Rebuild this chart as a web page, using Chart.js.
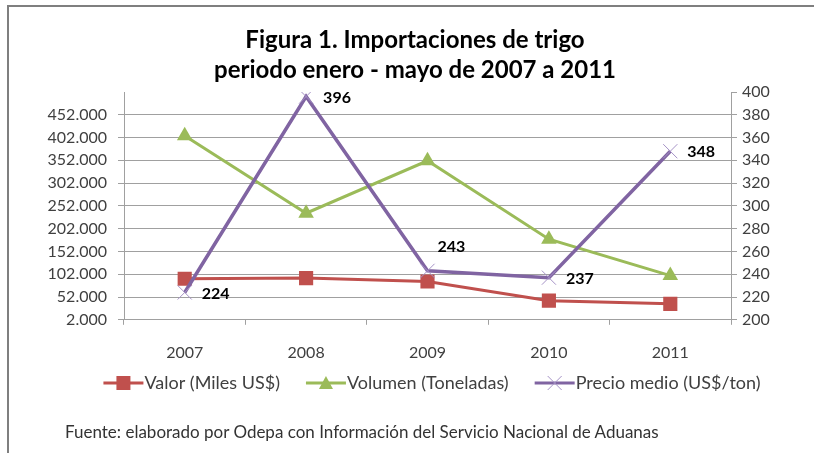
<!DOCTYPE html>
<html>
<head>
<meta charset="utf-8">
<script src="https://cdn.jsdelivr.net/npm/chart.js@4"></script>
<style>
  body { margin: 0; background: #fff; }
  #frame {
    position: absolute; left: 7px; top: 5px; right: 0; bottom: 0;
    border-top: 2px solid #7f7f7f; border-left: 2px solid #7f7f7f;
  }
  #chartBox { position: absolute; left: 0; top: 0; }
  #fuente {
    position: absolute; left: 65px; top: 421px;
    font-family: Lato, sans-serif; font-size: 17px; color: #333;
  }
</style>
</head>
<body>
<div id="frame"></div>
<div id="chartBox"><canvas id="myChart" width="814" height="453"></canvas></div>
<div id="fuente">Fuente: elaborado por Odepa con Información del Servicio Nacional de Aduanas</div>
<script>
// datos
const years = ['2007', '2008', '2009', '2010', '2011'];
const valor = [92000, 93500, 86000, 44000, 37000]; // Miles US$
const volumen = [406000, 236000, 351000, 179000, 99000]; // Toneladas
const precio = [224, 396, 243, 237, 348]; // US$/ton

const FONT = 'Lato, sans-serif';
const TXT = '#404040';
const GRID = '#a0a0a0';

function puntos(v) {
  return String(v).replace(/\B(?=(\d{3})+(?!\d))/g, '.');
}

// bold labels beside the price points
const precioLabels = {
  id: 'precioLabels',
  afterDatasetsDraw(chart) {
    const meta = chart.getDatasetMeta(2);
    const ctx = chart.ctx;
    ctx.save();
    ctx.font = 'bold 16px ' + FONT;
    ctx.fillStyle = '#000';
    ctx.textAlign = 'left';
    ctx.textBaseline = 'middle';
    meta.data.forEach((pt, i) => {
      let dx = 17, dy = 1;
      if (i === 2) { dx = 10; dy = -24; } // 2009 goes above
      ctx.fillText(String(precio[i]), pt.x + dx, pt.y + dy);
    });
    ctx.restore();
  }
};

// excel style legend: line with marker, then the text
const excelLegend = {
  id: 'excelLegend',
  afterDraw(chart) {
    const ctx = chart.ctx;
    const y = 383, lineLen = 40, gap = 26, center = 432;
    ctx.save();
    ctx.font = '18px ' + FONT;
    ctx.textBaseline = 'middle';
    ctx.textAlign = 'left';
    const items = chart.data.datasets.map((ds) => ({ ds, w: ctx.measureText(ds.label).width }));
    const total = items.reduce((s, it) => s + lineLen + 1 + it.w, 0) + gap * (items.length - 1);
    let x = center - total / 2;
    items.forEach(({ ds, w }) => {
      ctx.strokeStyle = ds.borderColor;
      ctx.lineWidth = 3;
      ctx.beginPath(); ctx.moveTo(x, y); ctx.lineTo(x + lineLen, y); ctx.stroke();
      const mx = x + lineLen / 2;
      if (ds.pointStyle === 'rect') {
        ctx.fillStyle = ds.backgroundColor;
        ctx.fillRect(mx - 7, y - 7, 14, 14);
      } else if (ds.pointStyle === 'triangle') {
        ctx.fillStyle = ds.backgroundColor;
        ctx.beginPath(); ctx.moveTo(mx, y - 7); ctx.lineTo(mx + 7, y + 6); ctx.lineTo(mx - 7, y + 6); ctx.closePath(); ctx.fill();
      } else {
        ctx.strokeStyle = ds.pointBorderColor;
        ctx.lineWidth = 1;
        ctx.beginPath();
        ctx.moveTo(mx - 7, y - 7); ctx.lineTo(mx + 7, y + 7);
        ctx.moveTo(mx + 7, y - 7); ctx.lineTo(mx - 7, y + 7);
        ctx.stroke();
      }
      ctx.fillStyle = TXT;
      ctx.fillText(ds.label, x + lineLen + 1, y);
      x += lineLen + 1 + w + gap;
    });
    ctx.restore();
  }
};

const chart = new Chart(document.getElementById('myChart'), {
  type: 'line',
  data: {
    labels: years,
    datasets: [
      {
        label: 'Valor (Miles US$)',
        data: valor,
        yAxisID: 'y',
        borderColor: '#c0504d',
        backgroundColor: '#c0504d',
        borderWidth: 3,
        pointStyle: 'rect',
        pointRadius: 10,
        pointBorderWidth: 0,
        order: 2
      },
      {
        label: 'Volumen (Toneladas)',
        data: volumen,
        yAxisID: 'y',
        borderColor: '#9bbb59',
        backgroundColor: '#9bbb59',
        borderWidth: 3,
        pointStyle: 'triangle',
        pointRadius: 9,
        pointBorderWidth: 0,
        order: 1
      },
      {
        label: 'Precio medio (US$/ton)',
        data: precio,
        yAxisID: 'y1',
        borderColor: '#8064a2',
        backgroundColor: '#a592c6',
        pointBorderColor: '#a592c6',
        borderWidth: 3.5,
        pointStyle: 'crossRot',
        pointRadius: 10,
        pointBorderWidth: 1,
        order: 0
      }
    ]
  },
  options: {
    responsive: false,
    animation: false,
    layout: { padding: { left: 16, right: 0, top: 0, bottom: 73 } },
    plugins: {
      title: {
        display: true,
        text: ['Figura 1. Importaciones de trigo', 'periodo enero - mayo de 2007 a 2011'],
        color: '#000',
        font: { family: FONT, size: 24, weight: 'bold', lineHeight: 1.25 },
        padding: { top: 25, bottom: 7 }
      },
      legend: { display: false },
      tooltip: { enabled: false }
    },
    scales: {
      x: {
        offset: true,
        grid: {
          offset: true,
          drawOnChartArea: false,
          color: GRID,
          tickLength: 5
        },
        border: { color: GRID },
        ticks: { color: TXT, font: { family: FONT, size: 16 }, padding: 18 }
      },
      y: {
        position: 'left',
        min: 2000,
        max: 502000,
        afterFit(scale) { scale.width = 108; },
        ticks: {
          stepSize: 50000,
          autoSkip: false,
          color: TXT,
          font: { family: FONT, size: 16 },
          padding: 11,
          callback: (v) => (v === 502000 ? '' : puntos(v))
        },
        grid: {
          color: (c) => (c.tick && c.tick.value === 502000 ? 'rgba(0,0,0,0)' : GRID),
          tickLength: 6
        },
        border: { color: GRID }
      },
      y1: {
        position: 'right',
        min: 200,
        max: 400,
        afterFit(scale) { scale.width = 83; },
        ticks: {
          stepSize: 20,
          autoSkip: false,
          color: TXT,
          font: { family: FONT, size: 16 },
          padding: 5
        },
        grid: { drawOnChartArea: false, color: GRID, tickLength: 6 },
        border: { color: GRID }
      }
    }
  },
  plugins: [precioLabels, excelLegend]
});
</script>
</body>
</html>
